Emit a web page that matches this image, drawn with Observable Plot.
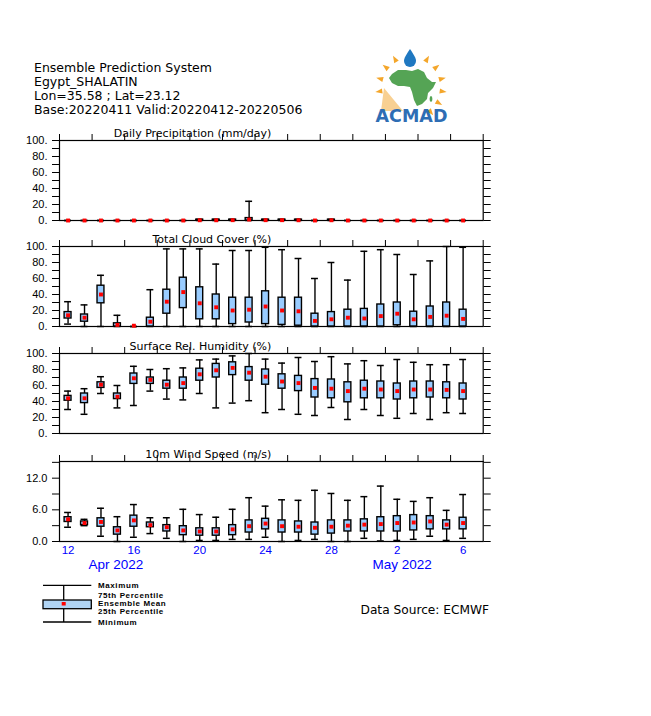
<!DOCTYPE html>
<html><head><meta charset="utf-8">
<script src="https://cdn.jsdelivr.net/npm/d3@7"></script>
<script src="https://cdn.jsdelivr.net/npm/@observablehq/plot@0.6"></script>
<style>
body{margin:0;background:#fff;}
#wrap{position:relative;width:651px;height:716px;overflow:hidden;background:#fff;}
</style></head><body><div id="wrap"></div>
<script>
// ---------- data ----------
const days = ["12","13","14","15","16","17","18","19","20","21","22","23","24","25","26","27","28","29","30","1","2","3","4","5","6"];
const dayTickIdx = [0,4,8,12,16,20,24];
const dayTickLabels = ["12","16","20","24","28","2","6"];
const monthLabels = ["Apr 2022","May 2022"];
const monthPos = [2.9, 20.3];

const headerLines = ["Ensemble Prediction System","Egypt_SHALATIN","Lon=35.58 ; Lat=23.12","Base:20220411 Valid:20220412-20220506"];
const legendLabels = ["Maximum","75th Percentile","Ensemble Mean","25th Percentile","Minimum"];

const precipMin  = [0,0,0,0,0,0,0,0,0,0,0,0,0,0,0,0,0,0,0,0,0,0,0,0,0];
const precipQ1   = [0,0,0,0,0,0,0,0,0,0,0,0,0,0,0,0,0,0,0,0,0,0,0,0,0];
const precipMean = [0,0,0,0,0,0,0,0,0.3,0.3,0.4,1.2,0.4,0.4,0.3,0,0.3,0,0,0,0,0,0,0,0];
const precipQ3   = [0,0,0,0,0,0,0,0,1,1,1,3,1,1,1,0,1,0,0,0,0,0,0,0,0];
const precipMax  = [0,0,0,0,0,0,0,0,1.5,1.5,1.5,24,1.5,1.5,1.5,0,1.5,0,0,0,0,0,0,0,0];

const cloudMin  = [3,0,0,0,0,0,0,0,0,0,0,0,0,0,0,0,0,0,0,0,0,0,0,0,0];
const cloudQ1   = [10,6,29,0,0,0,16,23,9,9,3,5,3,2,1,0,0,0,0,0,1.5,0,0,0,0];
const cloudMean = [14,11,40,2,1,6,31,43,29,24,20,21,25,20,19,7,9,11,10,13,16,9,12,13.5,9.5];
const cloudQ3   = [18,15,51,4,0,11,46,61,49,40,36,36,44,36,36,16,18,21,22,27.5,30,18.5,25,30,21];
const cloudMax  = [31,27,64,14,0,46,97,97,97,78,95,95,99,96,85,60,80,58,94,96,90,65,82,100,99];

const rhMin  = [30,24,50,32,35,53,43,42,50,32,38,41,26,30,24,22.5,32.5,17.5,30,22.5,19,25,17.5,26,25];
const rhQ1   = [41,38,57,43,62,62,56,56,66,70,73,66,61,56,53,45,44,39,44,44,42.5,44,45,44,42.5];
const rhMean = [44,44,61,46,69,67,61,63,74,79,82,76,71,65,63,57,56,53,56,55,53,55,55,54.5,53];
const rhQ3   = [47,50,64,50,75,70,66,70,81,87,89,83,80,74,72,68,67.5,64,66,65,62.5,65,65,64,62.5];
const rhMax  = [53,56,71,60,84,80,81,82,92,93,97,100,93,88,95,90,96,87,91,85,92.5,89,86,86,92.5];

const windMin  = [2.7,3.0,1.0,0,0.8,1.5,0.6,0,0.2,0.2,0.4,0.4,0.8,0,0.2,0.4,0,0,0.6,0.1,0.2,0.4,1.0,0.2,0.6];
const windQ1   = [3.7,3.1,2.8,1.3,2.8,2.7,1.9,1.2,1.1,1.1,1.2,1.7,2.3,1.7,1.7,1.3,1.5,1.9,1.9,1.9,1.9,2.1,2.3,2.3,2.3];
const windMean = [4.2,3.5,3.7,2.1,4.0,3.1,2.7,2.1,1.9,1.9,2.3,2.9,3.4,2.9,2.8,2.6,2.8,3.0,3.2,3.3,3.5,3.6,3.8,3.2,3.5];
const windQ3   = [4.6,3.8,4.4,2.7,4.9,3.6,3.1,2.9,2.5,2.5,3.1,4.0,4.3,4.0,3.8,3.6,4.0,4.0,4.2,4.6,4.8,5.0,4.8,4.0,4.5];
const windMax  = [5.5,4.2,6.3,4.7,7.0,4.5,4.5,6.1,5.1,4.6,6.1,8.3,6.7,7.9,7.8,9.7,9.1,7.8,8.5,10.5,8.0,7.6,8.3,5.9,8.9];

const pctTicks = [0,10,20,30,40,50,60,70,80,90,100];
const pctLabelTicks = [0,20,40,60,80,100];
const windTicks = [0,3,6,9,12,15];
const windLabelTicks = [0,6,12];

// ---------- layout ----------
const wrap = document.getElementById("wrap");
const W = 651;
const frameLeft = 59, frameRight = 482.7;
const xDomain = [-0.52, 25.22];
const topTicks = d3.range(14).map(k => xDomain[0] + k * (xDomain[1] - xDomain[0]) / 13);
const boxHalf = 0.21;
const boxFill = "#99ccff";
const lblFont = "'Liberation Sans', Arial, sans-serif";
const gradsFont = "'DejaVu Sans', sans-serif";

function panel(cfg) {
  const rows = cfg.mean.map((m, i) => ({i, min: cfg.min[i], q1: cfg.q1[i], mean: m, q3: cfg.q3[i], max: cfg.max[i]}));
  const mt = 20, mb = cfg.bottom ? 40 : 8, h = 80;
  const marks = [
    Plot.axisY({anchor: "left", ticks: cfg.ticks, tickSize: 7, tickPadding: 5, label: null,
      tickFormat: d => cfg.labelTicks.includes(d) ? cfg.fmt(d) : ""}),
    Plot.axisY({anchor: "right", ticks: cfg.ticks, tickSize: 7, label: null, tickFormat: () => ""}),
    Plot.axisX({anchor: "top", ticks: topTicks, tickSize: 7, label: null, tickFormat: () => ""}),
    Plot.frame({stroke: "black", strokeWidth: 1.2}),
    Plot.ruleX(rows, {x: "i", y1: "q3", y2: "max", stroke: "black", strokeWidth: 1.4}),
    Plot.ruleX(rows, {x: "i", y1: "min", y2: "q1", stroke: "black", strokeWidth: 1.4}),
    Plot.ruleY(rows, {y: "max", x1: d => d.i - boxHalf, x2: d => d.i + boxHalf, stroke: "black", strokeWidth: 1.5}),
    Plot.ruleY(rows, {y: "min", x1: d => d.i - boxHalf, x2: d => d.i + boxHalf, stroke: "black", strokeWidth: 1.5}),
    Plot.rect(rows, {x1: d => d.i - boxHalf, x2: d => d.i + boxHalf, y1: "q1", y2: "q3", fill: boxFill, stroke: "black", strokeWidth: 1.4}),
    Plot.dot(rows, {x: "i", y: "mean", symbol: "square", r: 2.2, fill: "#ff0000", stroke: "none"}),
    Plot.text([cfg.title], {frameAnchor: "top", textAnchor: "end", lineAnchor: "middle", dy: -7.5, fontSize: 11, fontFamily: gradsFont, fill: "black"})
  ];
  if (cfg.bottom) {
    marks.push(Plot.text(dayTickIdx, {x: d => d, text: (d, i) => dayTickLabels[i], frameAnchor: "bottom", lineAnchor: "middle", dy: 8.5, fill: "#0000ff", fontSize: 11.5, fontFamily: lblFont}));
    marks.push(Plot.text(monthLabels, {x: (d, i) => monthPos[i], text: d => d, frameAnchor: "bottom", lineAnchor: "middle", dy: 23, fill: "#0000ff", fontSize: 13.5, fontFamily: lblFont}));
  }
  const p = Plot.plot({
    width: W, height: mt + h + mb,
    marginLeft: frameLeft, marginRight: W - frameRight, marginTop: mt, marginBottom: mb,
    x: {domain: xDomain, axis: null},
    y: {domain: cfg.domain, axis: null},
    style: {fontFamily: lblFont, fontSize: "11px", color: "black", background: "transparent", overflow: "visible"},
    marks
  });
  p.style.position = "absolute";
  p.style.left = "0px";
  p.style.top = (cfg.top - mt) + "px";
  wrap.appendChild(p);
}

const pctFmt = d => d + ".";
panel({title: "Daily Precipitation (mm/day)", min: precipMin, q1: precipQ1, mean: precipMean, q3: precipQ3, max: precipMax,
  domain: [0, 100], ticks: pctTicks, labelTicks: pctLabelTicks, fmt: pctFmt, top: 140});
panel({title: "Total Cloud Cover (%)", min: cloudMin, q1: cloudQ1, mean: cloudMean, q3: cloudQ3, max: cloudMax,
  domain: [0, 100], ticks: pctTicks, labelTicks: pctLabelTicks, fmt: pctFmt, top: 246});
panel({title: "Surface Rel. Humidity (%)", min: rhMin, q1: rhQ1, mean: rhMean, q3: rhQ3, max: rhMax,
  domain: [0, 100], ticks: pctTicks, labelTicks: pctLabelTicks, fmt: pctFmt, top: 353});
panel({title: "10m Wind Speed (m/s)", min: windMin, q1: windQ1, mean: windMean, q3: windQ3, max: windMax,
  domain: [0, 15.16], ticks: windTicks, labelTicks: windLabelTicks, fmt: d => d.toFixed(1), top: 460.5, bottom: true});

// ---------- overlay: header, logo, legend, source ----------
const NS = "http://www.w3.org/2000/svg";
const ov = document.createElementNS(NS, "svg");
ov.setAttribute("width", W); ov.setAttribute("height", 716);
ov.style.position = "absolute"; ov.style.left = "0"; ov.style.top = "0"; ov.style.pointerEvents = "none";
wrap.appendChild(ov);
function el(tag, attrs, txt) {
  const e = document.createElementNS(NS, tag);
  for (const k in attrs) e.setAttribute(k, attrs[k]);
  if (txt != null) e.textContent = txt;
  ov.appendChild(e);
  return e;
}
headerLines.forEach((t, i) => el("text", {x: 34, y: 71.5 + i * 14.3, "font-family": gradsFont, "font-size": 12.5, fill: "black"}, t));

// logo
const cx = 411, cy = 87, R = 32;
[-60, -38, -15, 8, 30, 52, -120, -142, -165, 172].forEach(a => {
  const t = a * Math.PI / 180, ux = Math.cos(t), uy = Math.sin(t), px = -uy, py = ux;
  const tip = [cx + ux * (R + 4), cy + uy * (R + 4)];
  const b1 = [cx + ux * (R - 3) + px * 2.6, cy + uy * (R - 3) + py * 2.6];
  const b2 = [cx + ux * (R - 3) - px * 2.6, cy + uy * (R - 3) - py * 2.6];
  el("polygon", {points: [tip, b1, b2].map(p => p.join(",")).join(" "), fill: "#f4a62a"});
});
el("path", {d: "M410,49 C406,55 404,58 404,61 A6,6 0 0 0 416,61 C416,58 414,55 410,49 Z", fill: "#1f78c1"});
el("polygon", {points: "384,88 381,111 403,111", fill: "#f4b04a", opacity: 0.6});
el("polygon", {points: "392,74 398,70 406,70 412,71 418,69 424,72 427,78 432,82 436,82 433,88 428,93 427,99 422,104 417,106 414,100 412,92 410,87 404,86 398,86 392,83 389,78", fill: "#55a455"});
el("ellipse", {cx: 431, cy: 99, rx: 1.4, ry: 3, fill: "#55a455"});
el("text", {x: 411.5, y: 122, "text-anchor": "middle", "font-family": gradsFont, "font-weight": "bold", "font-size": 17.5, fill: "#2e6db4"}, "ACMAD");

// legend
const L = {x1: 43, x2: 91.3, xm: 63.7, yMax: 585.3, yQ3: 600, yQ1: 608.7, yMin: 622};
el("line", {x1: L.x1, x2: L.x2, y1: L.yMax, y2: L.yMax, stroke: "black", "stroke-width": 1.3});
el("line", {x1: L.xm, x2: L.xm, y1: L.yMax, y2: L.yQ3, stroke: "black", "stroke-width": 1.3});
el("line", {x1: L.xm, x2: L.xm, y1: L.yQ1, y2: L.yMin, stroke: "black", "stroke-width": 1.3});
el("line", {x1: L.x1, x2: L.x2, y1: L.yMin, y2: L.yMin, stroke: "black", "stroke-width": 1.3});
el("rect", {x: L.x1, y: L.yQ3, width: L.x2 - L.x1, height: L.yQ1 - L.yQ3, fill: "#b0d4f4", stroke: "black", "stroke-width": 1.3});
el("rect", {x: L.xm - 2, y: 602, width: 4, height: 3.5, fill: "#ff0000"});
[585.3, 595.2, 603.2, 611, 622].forEach((y, i) =>
  el("text", {x: 98, y: y, dy: "0.35em", "font-family": lblFont, "font-weight": "bold", "font-size": 8, "letter-spacing": 0.6, fill: "black"}, legendLabels[i]));

el("text", {x: 360.5, y: 610, dy: "0.35em", "font-family": gradsFont, "font-size": 12.2, fill: "black"}, "Data Source: ECMWF");
</script></body></html>
